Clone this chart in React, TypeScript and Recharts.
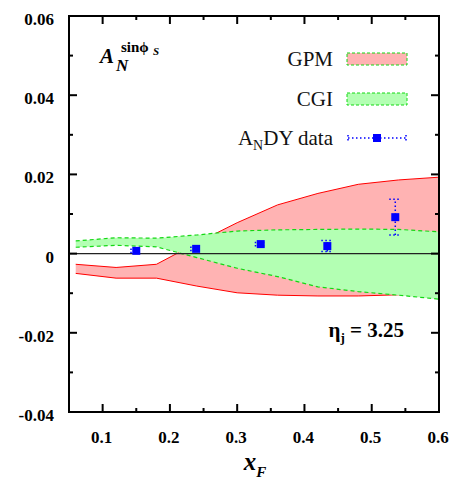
import React from 'react';
import {
  ComposedChart,
  Area,
  Scatter,
  ErrorBar,
  XAxis,
  YAxis,
  ReferenceLine,
  ReferenceArea,
  Legend,
} from 'recharts';

// model bands, sampled every 0.06 in x_F
const bandX = [0.06, 0.12, 0.18, 0.24, 0.3, 0.36, 0.42, 0.48, 0.54, 0.6];
const gpmLow = [-0.005, -0.0062, -0.0062, -0.0082, -0.0099, -0.0105, -0.0107, -0.0107, -0.0104, -0.01];
const gpmHigh = [-0.0027, -0.0035, -0.0027, 0.0027, 0.0078, 0.0123, 0.0152, 0.0175, 0.0186, 0.0193];
const cgiLow = [0.0016, 0.0021, 0.0017, -0.001, -0.0037, -0.0058, -0.0084, -0.0096, -0.0105, -0.0115];
const cgiHigh = [0.0032, 0.004, 0.0039, 0.0047, 0.0057, 0.006, 0.0061, 0.0062, 0.0061, 0.0055];

// AnDY points
const andyX = [0.15, 0.239, 0.335, 0.434, 0.535];
const andyY = [0.0007, 0.0012, 0.0024, 0.0019, 0.0092];
const andyErr = [0.0004, 0.0004, 0.0004, 0.0014, 0.0045];

const xTicks = [0.05, 0.1, 0.15, 0.2, 0.25, 0.3, 0.35, 0.4, 0.45, 0.5, 0.55, 0.6];
const yTicks = [-0.04, -0.03, -0.02, -0.01, 0, 0.01, 0.02, 0.03, 0.04, 0.05, 0.06];

const X_MIN = 0.05;
const X_MAX = 0.6;
const Y_MIN = -0.04;
const Y_MAX = 0.06;

const W = 458;
const H = 484;
const LEFT = 69;
const RIGHT = 439;
const TOP = 16;
const BOTTOM = 412;

const serif = '"Liberation Serif", "Times New Roman", serif';
const GREEN = '#14d814';

const bandData = bandX.map((x, i) => ({
  x,
  gpm: [gpmLow[i], gpmHigh[i]],
  cgi: [cgiLow[i], cgiHigh[i]],
}));
const andyData = andyX.map((x, i) => ({ x, y: andyY[i], err: andyErr[i] }));

const isMajor = (v: number, step: number) => Math.abs(v / step - Math.round(v / step)) < 1e-6;

// tick labels plus inward tick marks on both opposite sides
const renderXTick = (p: any) => {
  const v = p.payload.value;
  const major = isMajor(v, 0.1);
  const len = major ? 8 : 4;
  return (
    <g>
      <line x1={p.x} x2={p.x} y1={BOTTOM} y2={BOTTOM - len} stroke="#000" strokeWidth={2} />
      <line x1={p.x} x2={p.x} y1={TOP} y2={TOP + len} stroke="#000" strokeWidth={2} />
      {major && v > 0.06 && (
        <text x={p.x - 1} y={BOTTOM + 31} textAnchor="middle" fontFamily={serif} fontWeight="bold" fontSize={17} fill="#000">
          {v.toFixed(1)}
        </text>
      )}
    </g>
  );
};

const renderYTick = (p: any) => {
  const v = p.payload.value;
  const major = isMajor(v, 0.02);
  const len = major ? 8 : 4;
  const label = Math.abs(v) < 1e-9 ? '0' : v.toFixed(2);
  return (
    <g>
      <line x1={LEFT} x2={LEFT + len} y1={p.y} y2={p.y} stroke="#000" strokeWidth={2} />
      <line x1={RIGHT} x2={RIGHT - len} y1={p.y} y2={p.y} stroke="#000" strokeWidth={2} />
      {major && (
        <text x={54} y={p.y + 9} textAnchor="end" fontFamily={serif} fontWeight="bold" fontSize={17} fill="#000">
          {label}
        </text>
      )}
    </g>
  );
};

const SquareDot = (props: any) => {
  const { cx, cy } = props;
  return <rect x={cx - 4} y={cy - 4} width={8} height={8} fill="#0000ff" />;
};

const LegendBox = () => (
  <svg width={W} height={160} style={{ display: 'block' }}>
    <g fontFamily={serif} fontSize={21} fill="#111">
      <text x={333} y={66} textAnchor="end">GPM</text>
      <rect x={347} y={53} width={60} height={12} fill="#ffb3b3" stroke={GREEN} strokeDasharray="3 2" />
      <text x={333} y={105.5} textAnchor="end">CGI</text>
      <rect x={347} y={93} width={60} height={12} fill="#b3ffb3" stroke={GREEN} strokeDasharray="3 2" />
      <text x={333} y={145} textAnchor="end">
        A<tspan fontSize={14} dy={5}>N</tspan>
        <tspan dy={-5}>DY data</tspan>
      </text>
    </g>
    <g stroke="#0000ff" strokeWidth={1.5} strokeDasharray="1.5 2.5">
      <line x1={348} x2={406} y1={138} y2={138} />
      <line x1={348} x2={348} y1={135} y2={141} />
      <line x1={406} x2={406} y1={135} y2={141} />
    </g>
    <rect x={373} y={134} width={8} height={8} fill="#0000ff" />
  </svg>
);

export default function App() {
  return (
    <div style={{ position: 'absolute', left: 0, top: 0, width: W, height: H, background: '#fff' }}>
      <ComposedChart width={W} height={H} data={bandData} margin={{ top: TOP, right: W - RIGHT, left: 0, bottom: 0 }}>
        <XAxis
          dataKey="x"
          type="number"
          domain={[X_MIN, X_MAX]}
          ticks={xTicks}
          interval={0}
          allowDataOverflow
          axisLine={false}
          tickLine={false}
          height={H - BOTTOM}
          tick={renderXTick}
        />
        <YAxis
          type="number"
          domain={[Y_MIN, Y_MAX]}
          ticks={yTicks}
          interval={0}
          allowDataOverflow
          axisLine={false}
          tickLine={false}
          width={LEFT}
          tick={renderYTick}
        />
        <Legend
          layout="vertical"
          align="center"
          verticalAlign="middle"
          wrapperStyle={{ left: 0, top: 0, width: W, height: 160, pointerEvents: 'none' }}
          content={() => <LegendBox />}
        />
        <Area
          type="linear"
          dataKey="gpm"
          stroke="#ff0000"
          strokeWidth={1}
          fill="#ffb3b3"
          fillOpacity={1}
          dot={false}
          activeDot={false}
          isAnimationActive={false}
        />
        <Area
          type="linear"
          dataKey="cgi"
          stroke={GREEN}
          strokeWidth={1.2}
          strokeDasharray="4 3"
          fill="#b3ffb3"
          fillOpacity={1}
          dot={false}
          activeDot={false}
          isAnimationActive={false}
        />
        <ReferenceLine y={0} stroke="#222" strokeWidth={1.2} />
        <Scatter data={andyData} dataKey="y" shape={<SquareDot />} isAnimationActive={false}>
          <ErrorBar dataKey="err" direction="y" width={6} stroke="#0000ff" strokeWidth={1.5} strokeDasharray="1.5 2.5" />
        </Scatter>
        <ReferenceArea x1={X_MIN} x2={X_MAX} y1={Y_MIN} y2={Y_MAX} fill="none" stroke="#000" strokeWidth={2} ifOverflow="visible" />
      </ComposedChart>
      <svg width={W} height={H} style={{ position: 'absolute', left: 0, top: 0, pointerEvents: 'none' }}>
        <g fontFamily={serif} fontWeight="bold" fill="#000">
          <text x={100} y={63} fontSize={21} fontStyle="italic">A</text>
          <text x={116} y={71} fontSize={17} fontStyle="italic">N</text>
          <text x={121} y={52} fontSize={15}>sinϕ</text>
          <text x={153} y={55} fontSize={11} fontStyle="italic">S</text>
          <text x={404} y={337} fontSize={21} textAnchor="end">
            η<tspan fontSize={13} dy={5}>j</tspan>
            <tspan dy={-5}> = 3.25</tspan>
          </text>
          <text x={255} y={470} fontSize={25} fontStyle="italic" textAnchor="middle">
            x<tspan fontSize={15} dy={7}>F</tspan>
          </text>
        </g>
      </svg>
    </div>
  );
}
